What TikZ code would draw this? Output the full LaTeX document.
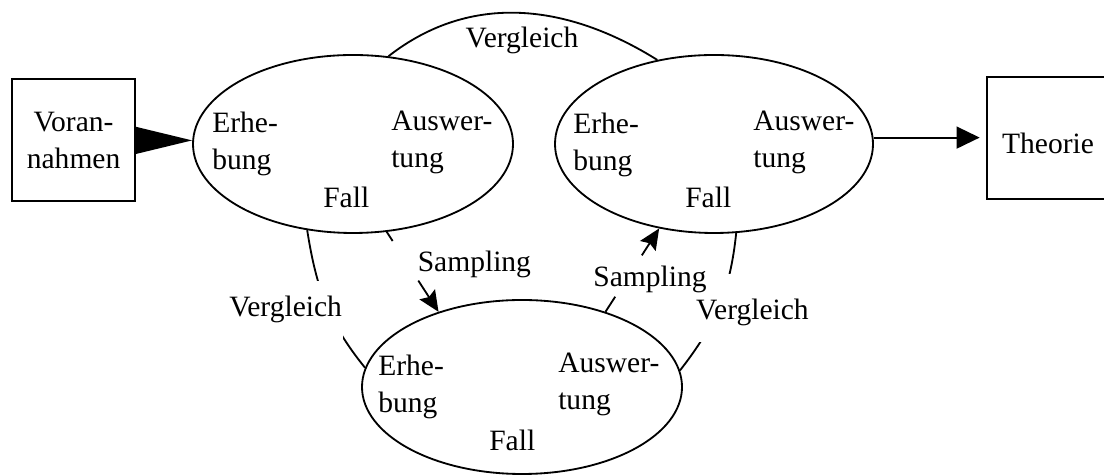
\documentclass[tikz,border=0pt]{standalone}
\usepackage{fontspec}
\setmainfont{Liberation Serif}
\usetikzlibrary{shapes.geometric,arrows.meta}
\newcommand\taille{\fontsize{21}{26.3}\selectfont}

\begin{document}
\begin{tikzpicture}[
  cadre/.style={draw,line width=1.3pt,minimum width=3.07cm,minimum height=3.05cm,inner sep=0pt,align=center,font=\taille},
  cas/.style={draw,ellipse,line width=1.3pt,inner sep=0pt},
  mot/.style={anchor=north west,inner sep=0pt,align=left,font=\taille},
  etiq/.style={anchor=base,inner sep=0pt,font=\taille},
  coupe/.style={etiq,fill=white,inner xsep=1pt,inner ysep=0.4cm},
  lien/.style={line width=1.3pt},
  pointe/.style={-{Stealth[length=0.52cm,width=0.46cm,inset=0.08cm]}}
]
\useasboundingbox (0,0) rectangle (27.6,11.9);

%cadres
\node[cadre] (voran) at (1.84,8.39) {Voran-\\nahmen};
\node[cadre,text height=0.82cm,text depth=0pt] (theorie) at (26.2,8.46) {Theorie};
%fin

%cas
\node[cas,minimum width=8cm,minimum height=4.45cm] (fallL) at (8.825,8.3) {};
\node[cas,minimum width=7.95cm,minimum height=4.45cm] (fallR) at (17.85,8.3) {};
\node[cas,minimum width=8cm,minimum height=4.35cm] (fallB) at (13.05,2.225) {};

\node[mot] (erhL) at (5.3,9.1) {Erhe-\\bung};
\node[mot] (ausL) at (9.775,9.125) {Auswer-\\tung};
\node[mot] (nomL) at (8.075,7.225) {Fall};

\node[mot] (erhR) at (14.325,9.075) {Erhe-\\bung};
\node[mot] (ausR) at (18.825,9.125) {Auswer-\\tung};
\node[mot] (nomR) at (17.125,7.225) {Fall};

\node[mot] (erhB) at (9.45,3.025) {Erhe-\\bung};
\node[mot] (ausB) at (13.95,3.075) {Auswer-\\tung};
\node[mot] (nomB) at (12.225,1.15) {Fall};
%fin

%flèches
\fill ([yshift=0.34cm]voran.east) -- (fallL.west |- voran) -- ([yshift=-0.34cm]voran.east) -- cycle;
\draw[lien,-{Triangle[length=0.58cm,width=0.55cm]},shorten >=0.15cm] (fallR.east |- theorie) -- (theorie);
%fin

%vergleich
\draw[lien] (fallL.68) to[out=38,in=148] (fallR.124);
\draw[lien] (fallL.242) to[out=-81,in=129] (fallB.173);
\draw[lien] (fallR.284) to[out=264,in=52] (fallB.6);
\node[etiq] (vglH) at (13.05,10.7) {Vergleich};
\node[coupe] (vglL) at (7.14,3.975) {Vergleich};
\node[coupe,text height=0.75cm] (vglR) at (18.81,3.9) {Vergleich};
%fin

%sampling (bout + flèche)
\draw[lien,shorten >=2.11cm] (fallL.291) -- (fallB.138);
\draw[lien,pointe,shorten <=1.45cm] (fallL.291) -- (fallB.138);
\draw[lien,shorten >=2.03cm] (fallB.42) -- (fallR.237);
\draw[lien,pointe,shorten <=1.68cm] (fallB.42) -- (fallR.237);
\node[etiq] (sampL) at (11.86,5.1) {Sampling};
\node[etiq] (sampR) at (16.25,4.725) {Sampling};
%fin
\end{tikzpicture}
\end{document}
